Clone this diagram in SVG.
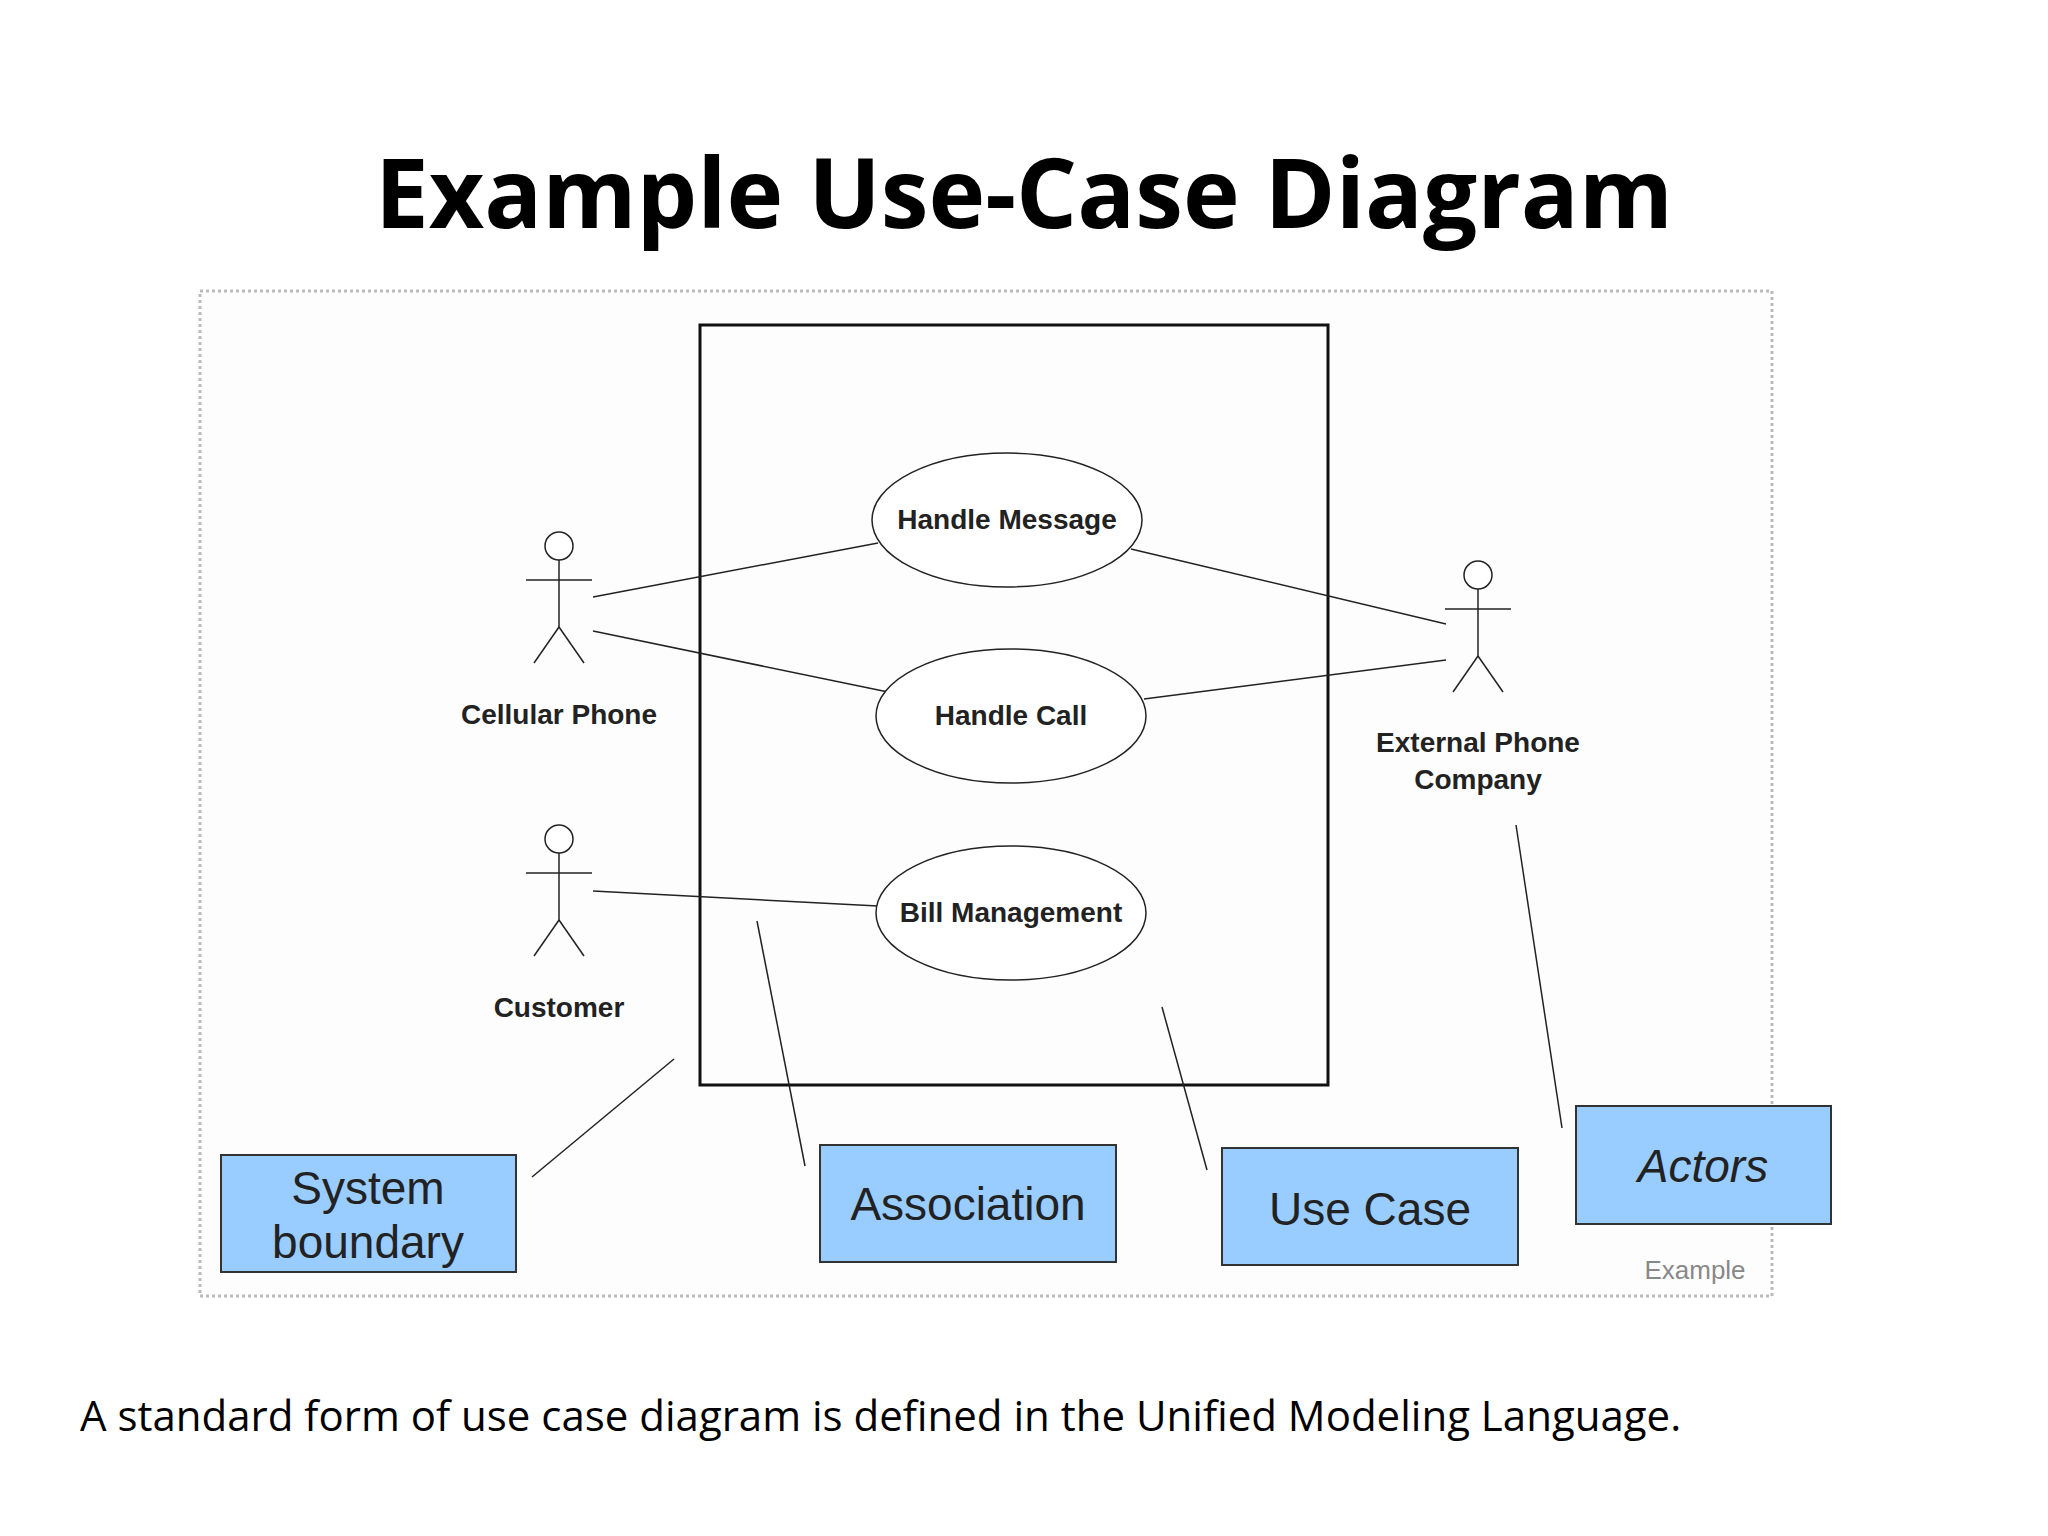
<svg xmlns="http://www.w3.org/2000/svg" width="2048" height="1536" viewBox="0 0 2048 1536">
<style>
.ln{stroke:#222;stroke-width:1.5;fill:none}
.uc{fill:#fff;stroke:#222;stroke-width:1.5}
.lbl{font-family:"Liberation Sans",Arial,sans-serif;font-weight:bold;font-size:28px;fill:#222;text-anchor:middle}
.box{fill:#99ccff;stroke:#333;stroke-width:2}
.bt{font-family:"Liberation Sans",Arial,sans-serif;font-size:46px;fill:#222;text-anchor:middle}
</style>
<defs>
<g id="actor" class="ln">
<circle cx="0" cy="0" r="14" fill="#fff"/>
<line x1="0" y1="14" x2="0" y2="81"/>
<line x1="-33" y1="34" x2="33" y2="34"/>
<line x1="0" y1="81" x2="-25" y2="117"/>
<line x1="0" y1="81" x2="25" y2="117"/>
</g>
</defs>
<rect width="2048" height="1536" fill="#fff"/>
<text x="1024" y="228" font-family="'Open Sans',sans-serif" font-weight="bold" font-size="96" text-anchor="middle" fill="#000">Example Use-Case Diagram</text>
<rect x="200" y="291" width="1572" height="1005" fill="#fdfdfd" stroke="#bbb" stroke-width="3" stroke-dasharray="3,3"/>
<g id="system-boundary"><rect x="700" y="325" width="628" height="760" fill="none" stroke="#111" stroke-width="3"/></g>
<g id="connectors" class="ln">
<line x1="593" y1="597" x2="878" y2="543"/>
<line x1="593" y1="631" x2="888" y2="692"/>
<line x1="1131" y1="549" x2="1446" y2="624"/>
<line x1="1144" y1="699" x2="1446" y2="660"/>
<line x1="593" y1="891" x2="878" y2="906"/>
<line x1="674" y1="1059" x2="532" y2="1177"/>
<line x1="757" y1="921" x2="805" y2="1166"/>
<line x1="1162" y1="1007" x2="1207" y2="1170"/>
<line x1="1516" y1="825" x2="1562" y2="1128"/>
</g>
<g id="uc-handle-message"><ellipse class="uc" cx="1007" cy="520" rx="135" ry="67"/><text class="lbl" x="1007" y="529">Handle Message</text></g>
<g id="uc-handle-call"><ellipse class="uc" cx="1011" cy="716" rx="135" ry="67"/><text class="lbl" x="1011" y="725">Handle Call</text></g>
<g id="uc-bill"><ellipse class="uc" cx="1011" cy="913" rx="135" ry="67"/><text class="lbl" x="1011" y="922">Bill Management</text></g>
<g id="actor-cellular"><use href="#actor" x="559" y="546"/><text class="lbl" x="559" y="724">Cellular Phone</text></g>
<g id="actor-customer"><use href="#actor" x="559" y="839"/><text class="lbl" x="559" y="1017">Customer</text></g>
<g id="actor-external"><use href="#actor" x="1478" y="575"/><text class="lbl" x="1478" y="752">External Phone</text><text class="lbl" x="1478" y="789">Company</text></g>
<g id="note-system"><rect class="box" x="221" y="1155" width="295" height="117"/><text class="bt" x="368" y="1204">System</text><text class="bt" x="368" y="1258">boundary</text></g>
<g id="note-association"><rect class="box" x="820" y="1145" width="296" height="117"/><text class="bt" x="968" y="1220">Association</text></g>
<g id="note-usecase"><rect class="box" x="1222" y="1148" width="296" height="117"/><text class="bt" x="1370" y="1225">Use Case</text></g>
<g id="note-actors"><rect class="box" x="1576" y="1106" width="255" height="118"/><text class="bt" x="1703" y="1182" font-style="italic">Actors</text></g>
<text x="1695" y="1279" font-family="'Liberation Sans',Arial,sans-serif" font-size="26" fill="#888" text-anchor="middle">Example</text>
<text x="80" y="1431" font-family="'Open Sans',sans-serif" font-size="42" fill="#000">A standard form of use case diagram is defined in the Unified Modeling Language.</text>
</svg>
